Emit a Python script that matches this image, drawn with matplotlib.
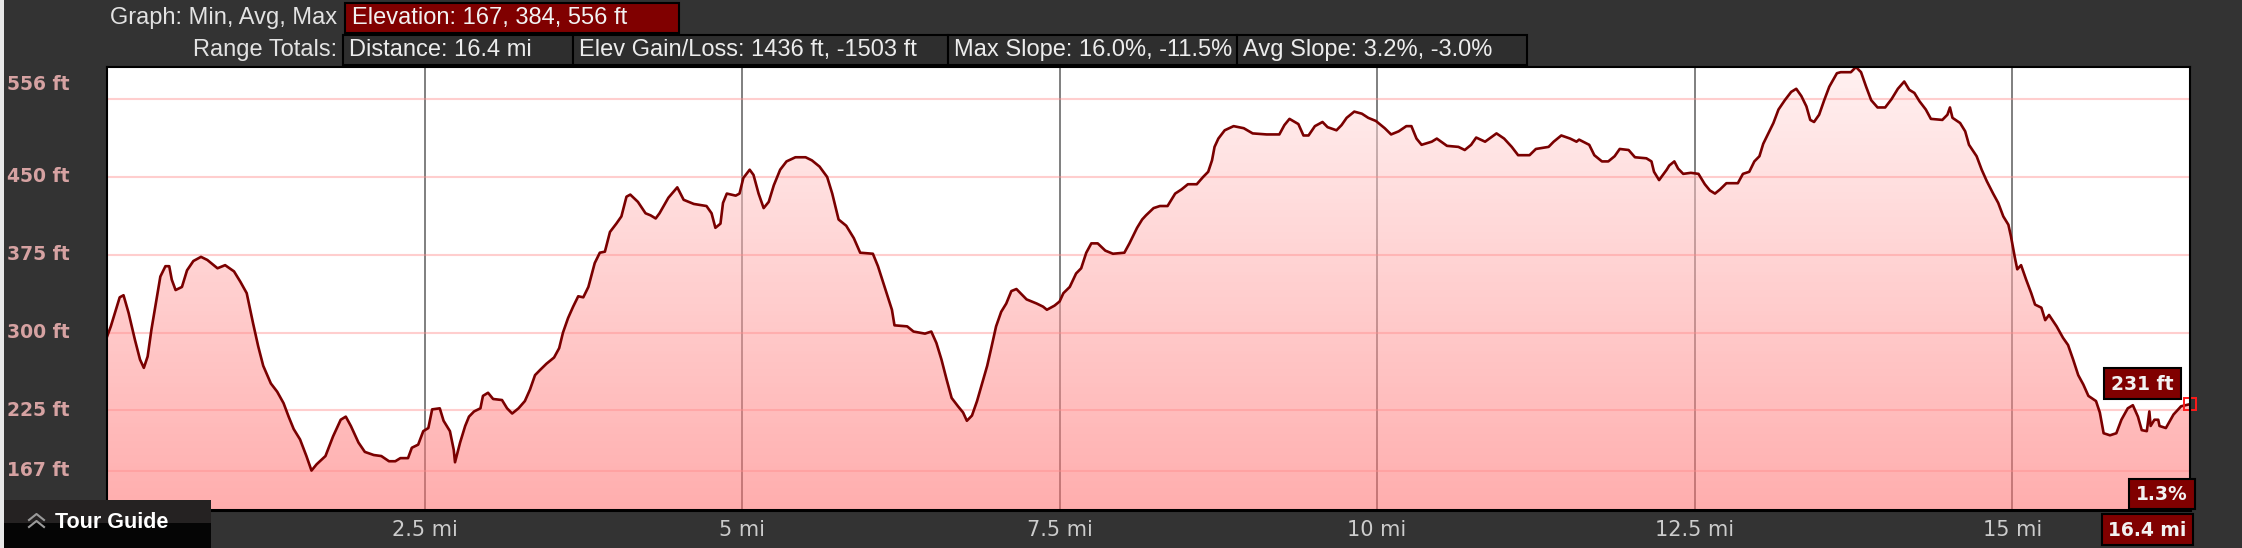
import matplotlib
matplotlib.use("Agg")

import matplotlib.pyplot as plt
import matplotlib.transforms as mtransforms
import numpy as np

from matplotlib.lines import Line2D
from matplotlib.patches import Polygon, Rectangle


# ============================================================
# DATA
# ============================================================

distance_mi = [
    0.00, 0.03, 0.07, 0.10, 0.13, 0.17, 0.22, 0.26, 0.29, 0.32, 0.35, 0.39,
    0.42, 0.46, 0.49, 0.51, 0.54, 0.59, 0.63, 0.68, 0.74, 0.79, 0.87, 0.93,
    1.00, 1.05, 1.10, 1.15, 1.19, 1.23, 1.29, 1.34, 1.39, 1.43, 1.47, 1.52,
    1.57, 1.61, 1.65, 1.72, 1.78, 1.84, 1.88, 1.92, 1.98, 2.03, 2.10, 2.16,
    2.22, 2.27, 2.31, 2.37, 2.40, 2.45, 2.49, 2.53, 2.56, 2.62, 2.65, 2.70,
    2.73, 2.74, 2.78, 2.82, 2.85, 2.89, 2.94, 2.96, 3.00, 3.04, 3.11, 3.15,
    3.19, 3.24, 3.29, 3.33, 3.37, 3.41, 3.46, 3.52, 3.56, 3.59, 3.63, 3.67,
    3.71, 3.75, 3.79, 3.84, 3.88, 3.92, 3.96, 4.01, 4.05, 4.09,
    4.12, 4.18, 4.24, 4.28, 4.32, 4.35, 4.42, 4.49, 4.54, 4.62, 4.72, 4.76,
    4.79, 4.83, 4.85, 4.88, 4.95, 4.98, 5.01, 5.06, 5.09, 5.13, 5.17, 5.21,
    5.25, 5.30, 5.35, 5.42, 5.50, 5.55, 5.61, 5.67, 5.71, 5.76, 5.82, 5.88,
    5.93, 6.03, 6.07, 6.13, 6.18, 6.20, 6.30, 6.35, 6.44, 6.49, 6.53, 6.57,
    6.61, 6.65, 6.70, 6.74, 6.77, 6.81, 6.85, 6.89, 6.93, 6.96, 7.00, 7.04,
    7.08, 7.12, 7.16, 7.20, 7.24, 7.32, 7.37, 7.40, 7.46, 7.50, 7.53, 7.58,
    7.63, 7.67, 7.71, 7.75, 7.80, 7.86, 7.92, 8.01, 8.05, 8.11, 8.15, 8.18,
    8.24, 8.29, 8.35, 8.41, 8.46, 8.51, 8.58, 8.63, 8.67, 8.70, 8.72, 8.75,
    8.80, 8.87, 8.95, 9.02, 9.13, 9.23, 9.27, 9.31, 9.38, 9.42, 9.46, 9.51,
    9.57, 9.61, 9.68, 9.72, 9.76, 9.82, 9.88, 9.93, 9.99, 10.06, 10.11,
    10.17, 10.23, 10.27, 10.31, 10.35, 10.43, 10.47, 10.55, 10.64, 10.69,
    10.74, 10.78, 10.85, 10.94, 11.00, 11.06, 11.11, 11.20, 11.25, 11.35,
    11.39, 11.45, 11.52, 11.57, 11.59, 11.67, 11.71, 11.77, 11.82, 11.87,
    11.91, 11.98, 12.03, 12.12, 12.16, 12.18, 12.22, 12.28,
    12.30, 12.34, 12.37, 12.41, 12.47, 12.53, 12.58, 12.62, 12.66, 12.70,
    12.75, 12.84, 12.88, 12.93, 12.97, 13.01, 13.04, 13.08, 13.12, 13.16,
    13.21, 13.26, 13.30, 13.34, 13.38, 13.41, 13.44, 13.48, 13.52, 13.56,
    13.62, 13.65, 13.73, 13.77, 13.81, 13.85, 13.89, 13.94, 14.00, 14.05,
    14.10, 14.15, 14.19, 14.23, 14.27, 14.32, 14.36, 14.45, 14.49, 14.51,
    14.53, 14.59, 14.63, 14.66, 14.72, 14.76, 14.80, 14.85, 14.89, 14.93,
    14.97, 14.99, 15.02, 15.04, 15.07, 15.11, 15.15, 15.18, 15.23, 15.26,
    15.29, 15.35, 15.40, 15.44, 15.48, 15.52, 15.56, 15.60, 15.66, 15.69,
    15.72, 15.77, 15.82, 15.86, 15.91, 15.95, 15.99, 16.02, 16.06, 16.08,
    16.09, 16.12, 16.15, 16.16, 16.21, 16.27, 16.33, 16.40,
]

elevation_ft = [
    296, 306, 322, 334, 336, 319, 293, 274, 266, 277, 303, 332,
    354, 364, 364, 351, 341, 344, 360, 369, 373, 370, 362, 365,
    359, 349, 338, 309, 287, 268, 251, 243, 232, 219, 207, 197,
    181, 167, 173, 181, 200, 216, 219, 210, 194, 185, 182, 181,
    176, 176, 179, 179, 189, 192, 205, 208, 226, 227, 215, 205,
    187, 175, 194, 210, 219, 224, 227, 239, 242, 236, 235, 227,
    222, 227, 234, 245, 259, 264, 270, 276, 285, 300, 314, 325,
    335, 334, 344, 367, 377, 378, 397, 405, 412, 431,
    433, 426, 415, 413, 410, 415, 430, 440, 428, 424, 422, 415,
    401, 405, 425, 434, 432, 434, 449, 457, 452, 434, 420, 426,
    442, 457, 465, 469, 469, 466, 460, 450, 434, 409, 403, 391,
    377, 376, 364, 341, 322, 307, 306, 301, 299, 301, 290, 274,
    255, 237, 229, 223, 215, 220, 234, 251, 268, 284, 306, 320,
    328, 340, 342, 337, 332, 328, 325, 322, 326, 330, 338, 344,
    357, 362, 377, 386, 386, 379, 376, 377, 386, 401, 409, 413,
    420, 422, 422, 434, 438, 443, 443, 450, 455, 466, 479, 487,
    495, 499, 497, 492, 491, 491, 500, 506, 501, 490, 490, 499,
    503, 498, 495, 500, 507, 513, 511, 507, 504, 497, 491,
    494, 499, 499, 487, 481, 484, 487, 480, 479, 476,
    481, 488, 484, 492, 487, 479, 471, 471, 477, 479,
    484, 490, 487, 484, 486, 481, 471, 465, 465, 470,
    477, 476, 469, 468, 465, 455, 447, 457,
    461, 465, 458, 453, 454, 453, 443, 437, 434, 438,
    444, 444, 453, 455, 465, 470, 482, 492, 502, 515,
    524, 532, 535, 528, 518, 505, 503, 510, 524, 537,
    550, 551, 551, 556, 551, 537, 524, 517, 517, 525,
    535, 542, 534, 531, 523, 515, 506, 505, 510, 517,
    507, 502, 494, 481, 470, 457, 446, 434, 425, 412,
    404, 393, 373, 361, 365, 351, 338, 327, 324, 312,
    317, 306, 295, 288, 274, 259, 250, 239, 234, 223,
    203, 201, 203, 216, 227, 230, 219, 206, 205, 224,
    210, 216, 216, 210, 208, 221, 229, 231,
]

x_ticks = [2.5, 5, 7.5, 10, 12.5, 15]
x_tick_labels = ["2.5 mi", "5 mi", "7.5 mi", "10 mi", "12.5 mi", "15 mi"]

y_grid = [525, 450, 375, 300, 225, 167]
y_label_values = [556, 450, 375, 300, 225, 167]

graph_label = "Graph: Min, Avg, Max"
elevation_summary = "Elevation: 167, 384, 556 ft"
totals_label = "Range Totals:"
totals = [
    "Distance: 16.4 mi",
    "Elev Gain/Loss: 1436 ft, -1503 ft",
    "Max Slope: 16.0%, -11.5%",
    "Avg Slope: 3.2%, -3.0%",
]
end_slope = "1.3%"


# ============================================================
# FIGURE
# ============================================================

W, H = 2242, 548
BG = "#333333"
DARK_RED = "#800000"

fig = plt.figure(figsize=(W / 100, H / 100), dpi=100, facecolor=BG)


def fx(px):
    return px / W


def fy(py):
    return 1 - py / H


def pixel_box(x0, y0, x1, y1, fc, ec="black", lw=1.5, z=5):
    rect = Rectangle(
        (fx(x0), fy(y1)),
        (x1 - x0) / W,
        (y1 - y0) / H,
        transform=fig.transFigure,
        facecolor=fc,
        edgecolor=ec,
        linewidth=lw,
        zorder=z,
    )
    fig.add_artist(rect)


ax = fig.add_axes([fx(107), fy(510), (2190 - 107) / W, (510 - 67) / H])
ax.set_facecolor("white")

x_min, x_max = 0, distance_mi[-1]
y_min, y_max = 129, 556

# ------------------------------------------------------------
# VERTICAL GRID (under the translucent fill)
# ------------------------------------------------------------
for x in x_ticks:
    ax.axvline(x, color="#7f7f7f", linewidth=1.4, zorder=1)

# ------------------------------------------------------------
# GRADIENT FILL UNDER THE PROFILE
# ------------------------------------------------------------
t = np.linspace(0, 1, 256)[:, None]
bottom_rgb = np.array([1.0, 0.42, 0.42])
top_rgb = np.array([1.0, 0.90, 0.90])
rgb = bottom_rgb + (top_rgb - bottom_rgb) * t
rgba = np.zeros((256, 1, 4))
rgba[:, 0, :3] = rgb
rgba[:, 0, 3] = 0.55

img = ax.imshow(
    rgba,
    extent=[x_min, x_max, y_min, y_max],
    origin="lower",
    aspect="auto",
    interpolation="bilinear",
    zorder=2,
)

verts = (
    [(distance_mi[0], y_min)]
    + list(zip(distance_mi, elevation_ft))
    + [(distance_mi[-1], y_min)]
)
clip = Polygon(verts, closed=True, facecolor="none", edgecolor="none")
ax.add_patch(clip)
img.set_clip_path(clip)

# ------------------------------------------------------------
# HORIZONTAL GRID (over the fill)
# ------------------------------------------------------------
for y in y_grid:
    ax.axhline(y, color=(1.0, 0.55, 0.55), alpha=0.42, linewidth=1.5, zorder=3)

# ------------------------------------------------------------
# PROFILE LINE + END MARKER
# ------------------------------------------------------------
ax.plot(distance_mi, elevation_ft, color="#7a0000", linewidth=1.9, zorder=4)

ax.plot(
    distance_mi[-1],
    elevation_ft[-1],
    marker="s",
    markersize=8.5,
    markerfacecolor="none",
    markeredgecolor="#ff1a1a",
    markeredgewidth=1.4,
    clip_on=False,
    zorder=6,
)

ax.set_xlim(x_min, x_max)
ax.set_ylim(y_min, y_max)

for side, spine in ax.spines.items():
    spine.set_color("black")
    spine.set_linewidth(2.2 if side == "bottom" else 1.5)
    spine.set_zorder(7)

# ------------------------------------------------------------
# TICKS
# ------------------------------------------------------------
ax.set_xticks(x_ticks, x_tick_labels)
ax.set_yticks([])
ax.tick_params(axis="x", length=0, pad=7, labelsize=15, labelcolor="#cccccc")

label_trans = mtransforms.blended_transform_factory(fig.transFigure, ax.transData)

for value in y_label_values[1:]:
    ax.text(
        fx(7),
        value,
        f"{value} ft",
        transform=label_trans,
        ha="left",
        va="center",
        fontsize=13.5,
        fontweight="bold",
        color="#d6a2a2",
    )

ax.annotate(
    f"{y_label_values[0]} ft",
    xy=(fx(7), y_label_values[0]),
    xycoords=label_trans,
    xytext=(0, -6),
    textcoords="offset points",
    ha="left",
    va="top",
    fontsize=13.5,
    fontweight="bold",
    color="#d6a2a2",
)

# ============================================================
# HEADER
# ============================================================

header_font = dict(family=["Liberation Sans", "DejaVu Sans"], fontsize=17)

fig.text(fx(337), fy(18), graph_label, ha="right", va="center",
         color="#e2e2e2", **header_font)
pixel_box(345, 3, 679, 33, DARK_RED)
fig.text(fx(352), fy(18), elevation_summary, ha="left", va="center",
         color="#f2f2f2", zorder=6, **header_font)

fig.text(fx(337), fy(50), totals_label, ha="right", va="center",
         color="#e2e2e2", **header_font)

box_edges = [343, 573, 948, 1237, 1527]

for i, label in enumerate(totals):
    pixel_box(box_edges[i], 35, box_edges[i + 1], 65, "#2e2e2e")
    fig.text(fx(box_edges[i] + 6), fy(50), label, ha="left", va="center",
             color="#ececec", zorder=6, **header_font)

# ============================================================
# END-POINT BADGES
# ============================================================

badge_font = dict(fontsize=13.5, fontweight="bold", color="#f2f2f2", zorder=9)

pixel_box(2104, 368, 2181, 399, DARK_RED, z=8)
fig.text(fx(2142), fy(384), f"{elevation_ft[-1]} ft", ha="center",
         va="center", **badge_font)

pixel_box(2129, 479, 2195, 509, DARK_RED, z=8)
fig.text(fx(2162), fy(494), end_slope, ha="center", va="center", **badge_font)

pixel_box(2102, 514, 2193, 545, DARK_RED, z=8)
fig.text(fx(2147), fy(530), f"{distance_mi[-1]} mi", ha="center",
         va="center", **badge_font)

# ============================================================
# LEFT STRIP + TOUR GUIDE TAB
# ============================================================

pixel_box(0, 0, 4, H, "#e8e8e8", ec="none", lw=0, z=4)

pixel_box(4, 500, 211, 523, "#252222", ec="none", lw=0, z=8)
pixel_box(4, 523, 211, 548, "#050505", ec="none", lw=0, z=8)

for top in (514, 521):
    fig.add_artist(Line2D(
        [fx(29), fx(36.5), fx(44)],
        [fy(top + 6), fy(top), fy(top + 6)],
        transform=fig.transFigure,
        color="#9a9a9a",
        linewidth=1.5,
        zorder=9,
    ))

fig.text(fx(55), fy(523), "Tour Guide", ha="left", va="center",
         family=["Liberation Sans", "DejaVu Sans"], fontsize=15.5,
         fontweight="bold", color="white", zorder=9)

fig.savefig("out.png", dpi=100, facecolor=BG)
